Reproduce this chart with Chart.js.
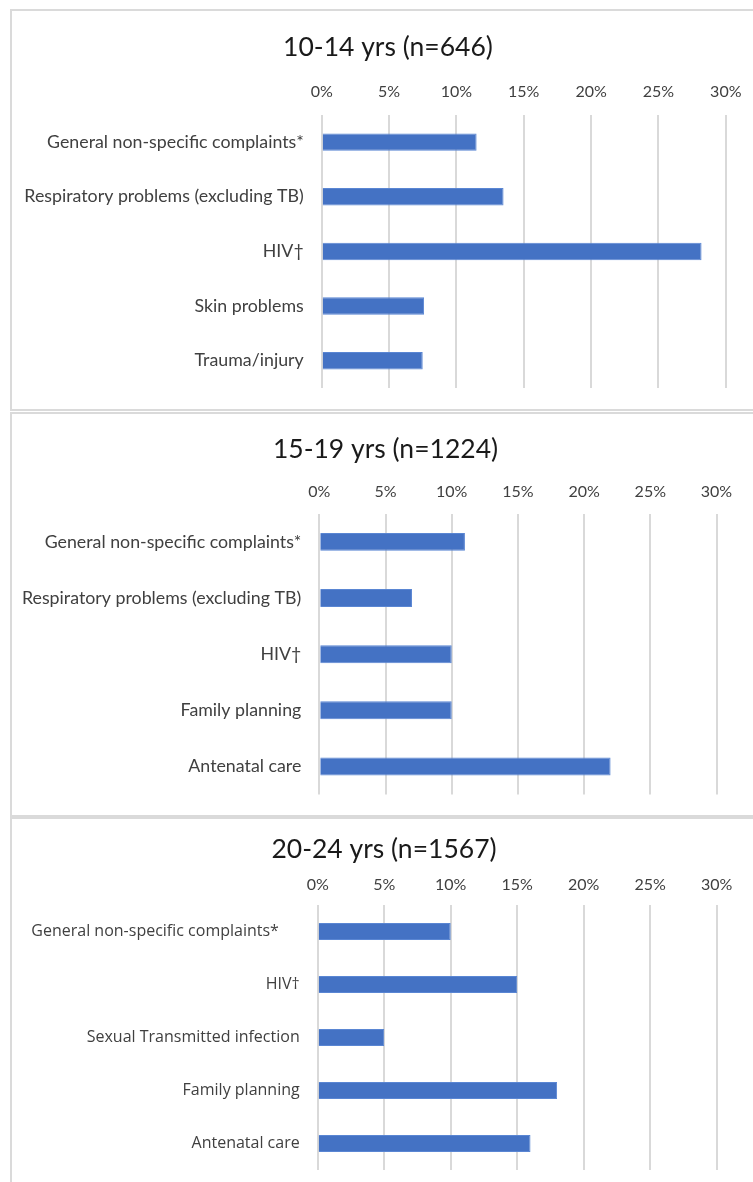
<!DOCTYPE html>
<html>
<head>
<meta charset="utf-8">
<script src="https://cdn.jsdelivr.net/npm/chart.js@4.4.1/dist/chart.umd.min.js"></script>
<style>
  html, body { margin: 0; padding: 0; background: #fff; width: 753px; height: 1182px; overflow: hidden; }
  .panel { position: absolute; left: 10px; width: 800px; border: 2px solid #dadada; box-sizing: border-box; }
  canvas { position: absolute; left: 0; }
</style>
</head>
<body>
<div class="panel" style="top:9px;height:402px"></div>
<div class="panel" style="top:412px;height:405px"></div>
<div class="panel" style="top:817px;height:400px"></div>
<canvas id="c1" width="776" height="411" style="top:0px"></canvas>
<canvas id="c2" width="771" height="405" style="top:411px"></canvas>
<canvas id="c3" width="768" height="366" style="top:816px"></canvas>
<script>
// values in percent
const title1014 = "10-14 yrs (n=646)";
const cats1014 = ["General non-specific complaints*", "Respiratory problems (excluding TB)", "HIV\u2020", "Skin problems", "Trauma/injury"];
const vals1014 = [11.5, 13.5, 28.2, 7.6, 7.5];

const title1519 = "15-19 yrs (n=1224)";
const cats1519 = ["General non-specific complaints*", "Respiratory problems (excluding TB)", "HIV\u2020", "Family planning", "Antenatal care"];
const vals1519 = [11, 7, 10, 10, 22];

const title2024 = "20-24 yrs (n=1567)";
const cats2024 = ["General non-specific complaints*", "HIV\u2020", "Sexual Transmitted infection", "Family planning", "Antenatal care"];
const vals2024 = [10, 15, 5, 18, 16];

const axisMax = 30;
const axisStep = 5;

const BLUE = "#4472C4";

function makePanel(id, title, cats, vals, lay) {
  const ctx = document.getElementById(id).getContext("2d");
  return new Chart(ctx, {
    type: "bar",
    data: {
      labels: cats,
      datasets: [{
        data: vals,
        backgroundColor: BLUE,
        borderColor: "#5a86d3",
        borderWidth: 1,
        barPercentage: 1,
        categoryPercentage: 0.32
      }]
    },
    options: {
      indexAxis: "y",
      responsive: false,
      animation: false,
      layout: { padding: { top: lay.padTop, bottom: lay.padBottom, left: 0, right: 0 } },
      plugins: {
        legend: { display: false },
        tooltip: { enabled: false },
        title: {
          display: true,
          text: title,
          color: "#1a1a1a",
          padding: 0,
          font: { family: "Lato", size: 26.5, weight: "normal", lineHeight: 1.2 }
        }
      },
      scales: {
        x: {
          position: "top",
          min: 0,
          max: axisMax,
          border: { display: false },
          grid: { color: "#d9d9d9", lineWidth: 2, drawTicks: false },
          ticks: {
            stepSize: axisStep,
            padding: lay.tickPad,
            color: "#404040",
            font: { family: "Lato", size: 16, lineHeight: 1.2 },
            callback: v => v + "%"
          },
          afterFit: s => { s.height = lay.axisH; }
        },
        y: {
          border: { display: false },
          grid: { display: false, drawTicks: false },
          ticks: {
            padding: lay.labelPad,
            color: "#404040",
            font: lay.labelFont,
            callback: function (v) {
              const t = this.getLabelForValue(v);
              return lay.padFirst && v === 0 ? t + lay.padFirst : t;
            }
          },
          afterFit: s => {
            s.width = lay.left;
            // keep label overflow from shrinking the plot vertically
            s.paddingTop = 0;
            s.paddingBottom = 0;
          }
        },
        // empty right-hand gutter so the title centres on the panel, not the plot
        gutter: {
          type: "linear",
          axis: "y",
          position: "right",
          border: { display: false },
          grid: { display: false },
          ticks: { display: false },
          afterFit: s => {
            s.width = lay.rightGap;
            s.paddingTop = 0;
            s.paddingBottom = 0;
          }
        }
      }
    }
  });
}

makePanel("c1", title1014, cats1014, vals1014, {
  padTop: 31.7, axisH: 51.3, tickPad: 13.5, padBottom: 23, left: 321.7, rightGap: 50.2, labelPad: 18,
  labelFont: { family: "Lato", size: 17.8 }
});
makePanel("c2", title1519, cats1519, vals1519, {
  padTop: 22.3, axisH: 48.7, tickPad: 12.5, padBottom: 21.5, left: 319.3, rightGap: 54.5, labelPad: 18,
  labelFont: { family: "Lato", size: 17.8 }
});
makePanel("c3", title2024, cats2024, vals2024, {
  padTop: 17.3, axisH: 40, tickPad: 10.4, padBottom: 12, left: 317.7, rightGap: 51.3, labelPad: 18,
  labelFont: { family: "Open Sans", size: 16 }, padFirst: "     "
});
</script>
</body>
</html>
